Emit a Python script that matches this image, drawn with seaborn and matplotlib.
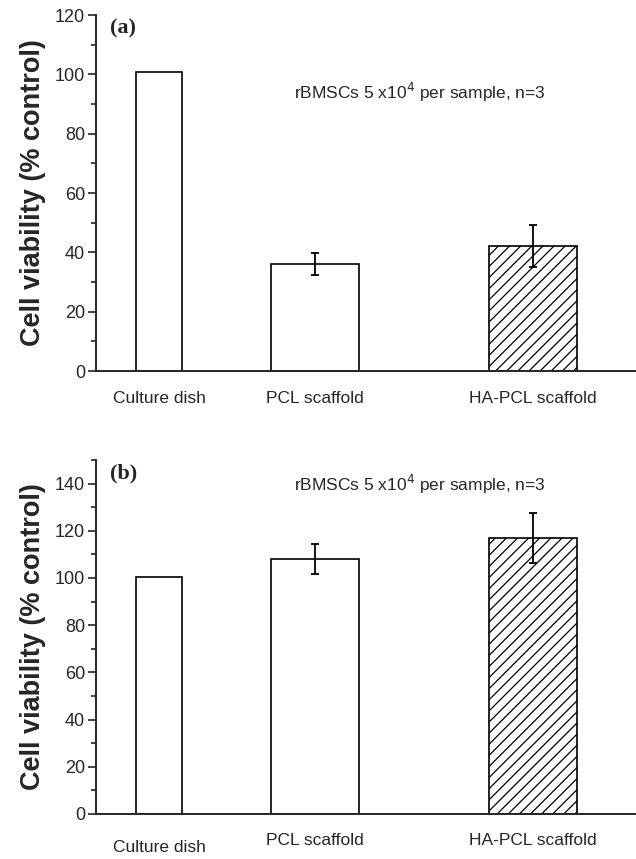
import numpy as np
import pandas as pd
import matplotlib
matplotlib.use('Agg')
import matplotlib.pyplot as plt
from matplotlib.ticker import MultipleLocator
import seaborn as sns

# data
groups = ['Culture dish', 'PCL scaffold', 'HA-PCL scaffold']
viab_a = [100.8, 36.0, 42.2]
err_a = [0.0, 3.7, 7.0]
viab_b = [100.6, 108.0, 117.0]
err_b = [0.0, 6.5, 10.7]
note = r'rBMSCs 5 x10$^4$ per sample, n=3'

# layout of the original: uneven bar positions / widths
CENTERS = [0.0, 1.0, 2.4]
WIDTHS = [0.295, 0.564, 0.564]
HATCHES = ['', '', '///']

sns.set_style('ticks')
plt.rcParams['font.family'] = ['Liberation Sans', 'DejaVu Sans']
plt.rcParams['hatch.linewidth'] = 0.9


def draw_panel(ax, vals, errs, tag, ylim, note_y, label_dy):
    df = pd.DataFrame({'group': groups, 'viability': vals})
    sns.barplot(data=df, x='group', y='viability', ax=ax, color='white',
                edgecolor='black', linewidth=1.2, errorbar=None, saturation=1)
    for p, c, w, h in zip(ax.patches, CENTERS, WIDTHS, HATCHES):
        p.set_x(c - w / 2)
        p.set_width(w)
        p.set_hatch(h)
        p.set_facecolor('white')
    xs = [p.get_x() + p.get_width() / 2 for p in ax.patches]
    ys = [p.get_height() for p in ax.patches]
    for x, y, e in zip(xs, ys, errs):
        if e > 0:
            ax.errorbar(x, y, yerr=e, fmt='none', ecolor='black',
                        elinewidth=1.3, capsize=3, capthick=1.3)
    ax.set_xlim(-0.404, 3.06)
    ax.set_ylim(*ylim)
    ax.set_xticks(xs)
    ax.set_xticklabels(groups, fontsize=12.5)
    ax.tick_params(axis='x', length=0, pad=14)
    for lab, dy in zip(ax.get_xticklabels(), label_dy):
        lab.set_y(dy)
    ax.yaxis.set_major_locator(MultipleLocator(20))
    ax.yaxis.set_minor_locator(MultipleLocator(10))
    ax.tick_params(axis='y', which='major', length=6, width=1.2, labelsize=13, pad=2)
    ax.tick_params(axis='y', which='minor', length=3.5, width=1.2)
    ax.set_xlabel('')
    ax.set_ylabel('Cell viability (% control)', fontsize=19.5, fontweight='bold', labelpad=6)
    sns.despine(ax=ax)
    for s in ['left', 'bottom']:
        ax.spines[s].set_linewidth(1.4)
    ax.text(0.026, 0.99, tag, transform=ax.transAxes, fontsize=16, fontweight='bold',
            family=['Liberation Serif', 'DejaVu Serif'], va='top', ha='left')
    ax.text(0.6, note_y, note, transform=ax.transAxes, fontsize=12.5, ha='center',
            va='center')


fig = plt.figure(figsize=(6.36, 8.59), dpi=100)
ax1 = fig.add_axes([0.151, 0.568, 0.849, 0.4145])
ax2 = fig.add_axes([0.151, 0.0524, 0.849, 0.4121])

draw_panel(ax1, viab_a, err_a, '(a)', (0, 120), 0.783, [0, 0, 0])
draw_panel(ax2, viab_b, err_b, '(b)', (0, 150), 0.93, [-0.018, 0, 0])

fig.savefig('out.png', dpi=100)
plt.close()
